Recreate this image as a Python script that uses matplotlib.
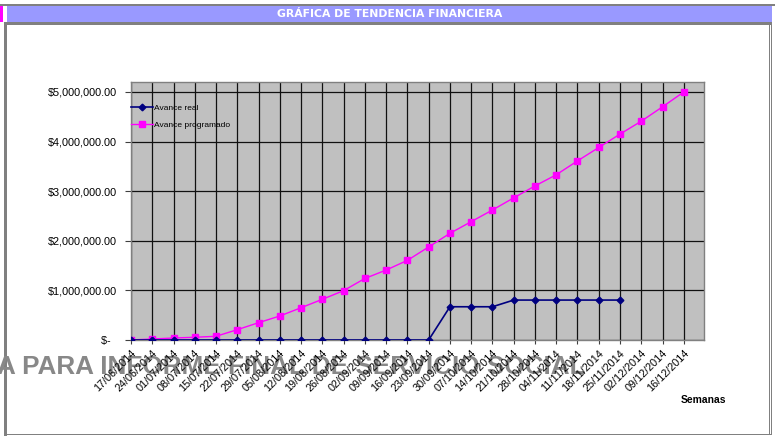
import numpy as np
import matplotlib
matplotlib.use('Agg')
import matplotlib.pyplot as plt
from matplotlib.patches import Rectangle
from matplotlib.ticker import FuncFormatter, MultipleLocator

plt.rcParams['font.family'] = ['Liberation Sans', 'DejaVu Sans']

# --- data ---
semanas = ['17/06/2014', '24/06/2014', '01/07/2014', '08/07/2014', '15/07/2014',
           '22/07/2014', '29/07/2014', '05/08/2014', '12/08/2014', '19/08/2014',
           '26/08/2014', '02/09/2014', '09/09/2014', '16/09/2014', '23/09/2014',
           '30/09/2014', '07/10/2014', '14/10/2014', '21/10/2014', '28/10/2014',
           '04/11/2014', '11/11/2014', '18/11/2014', '25/11/2014', '02/12/2014',
           '09/12/2014', '16/12/2014']

avance_real = [0, 0, 0, 0, 0, 0, 0, 0, 0, 0, 0, 0, 0, 0, 0,
               670000, 670000, 670000, 805000, 805000, 805000, 805000, 805000, 805000]

avance_programado = [0, 20000, 40000, 55000, 75000, 208000, 349000, 484000, 651000,
                     820000, 995000, 1240000, 1410000, 1605000, 1875000, 2150000,
                     2385000, 2620000, 2865000, 3105000, 3330000, 3610000, 3880000,
                     4150000, 4410000, 4700000, 5000000]

W, H = 775, 436
fig = plt.figure(figsize=(W / 100, H / 100), dpi=100)


def px(x, y):
    # pixel coords (from top-left) -> figure fraction
    return x / W, 1 - y / H


def box(x0, y0, x1, y1, color):
    fx0, fy1 = px(x0, y1)
    fig.patches.append(Rectangle((fx0, fy1), (x1 - x0) / W, (y1 - y0) / H,
                                 transform=fig.transFigure, facecolor=color,
                                 edgecolor='none', zorder=-2))


# frame around the sheet
box(0, 4, W, 6, '#808080')
box(7, 6, 772, 22, '#9999FF')
box(0, 6, 3, 22, '#FF00FF')
box(4, 22, 772, 25, '#808080')
box(4, 22, 7, 436, '#808080')
box(769, 22, 770, 435, '#808080')
box(771, 22, 772, 435, '#808080')
box(4, 434, 772, 435, '#808080')

fig.text(*px(390, 14), 'GRÁFICA DE TENDENCIA FINANCIERA', family='DejaVu Sans',
         fontsize=7.8, fontweight='bold', color='white', ha='center', va='center')

# plot area
l, t = px(131, 82)
r, b = px(704, 340)
ax = fig.add_axes([l, b, r - l, t - b])
ax.set_facecolor('#C0C0C0')
for s in ax.spines.values():
    s.set_color('#808080')
    s.set_linewidth(1)

x = np.arange(len(semanas))
ax.plot(x[:len(avance_real)], avance_real, color='#000080', lw=1.2, marker='D',
        ms=3.4, label='Avance real', zorder=4)
ax.plot(x, avance_programado, color='#FF00FF', lw=1.0, marker='s', ms=4.6,
        label='Avance programado', zorder=3)

ax.set_xlim(0, len(semanas) - 0.05)
ax.set_ylim(0, 5200000)
ax.set_xticks(x)
ax.set_xticklabels(semanas, rotation=45, ha='right', rotation_mode='anchor',
                   fontsize=7.8)
ax.yaxis.set_major_locator(MultipleLocator(1000000))
ax.yaxis.set_major_formatter(FuncFormatter(
    lambda v, p: '$-  ' if v == 0 else f'${v:,.2f}'))
ax.tick_params(axis='y', labelsize=7.8, length=4, color='#404040', pad=6)
ax.tick_params(axis='x', length=3, color='#404040', pad=3)

ax.grid(True, color='#111111', lw=0.9)
ax.set_axisbelow(True)

ax.legend(loc='upper left', bbox_to_anchor=px(131, 104), bbox_transform=fig.transFigure,
          frameon=False, fontsize=6, handlelength=2.6, handletextpad=0.2,
          labelspacing=1.15, borderpad=0, borderaxespad=0)

fig.text(*px(726, 400), 'Semanas', fontsize=7.4, fontweight='bold',
         ha='right', va='center')

fig.text(*px(-3, 367), 'A PARA INFORME FINAL DE SERVICIO SOCIAL', fontsize=18.8,
         fontweight='bold', color='#888888', ha='left', va='center', zorder=-1)

fig.savefig('out.png', dpi=100)
